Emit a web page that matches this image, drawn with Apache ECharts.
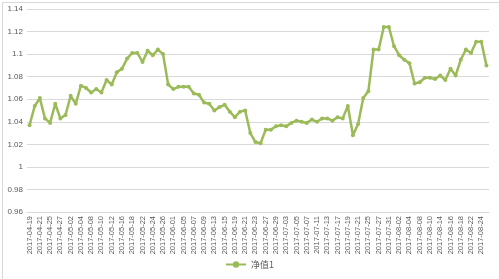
<!DOCTYPE html>
<html>
<head>
<meta charset="utf-8">
<script src="https://cdn.jsdelivr.net/npm/echarts@6/dist/echarts.min.js"></script>
<style>
html,body{margin:0;padding:0;background:#fff;}
#c{width:499px;height:279px;}
</style>
</head>
<body>
<div id="c"></div>
<script>
const categories = [
  "2017-04-19","2017-04-20","2017-04-21","2017-04-24","2017-04-25","2017-04-26","2017-04-27","2017-04-28",
  "2017-05-02","2017-05-03","2017-05-04","2017-05-05","2017-05-08","2017-05-09","2017-05-10","2017-05-11","2017-05-12",
  "2017-05-15","2017-05-16","2017-05-17","2017-05-18","2017-05-19","2017-05-22","2017-05-23","2017-05-24","2017-05-25","2017-05-26","2017-05-31",
  "2017-06-01","2017-06-02","2017-06-05","2017-06-06","2017-06-07","2017-06-08","2017-06-09","2017-06-12","2017-06-13","2017-06-14","2017-06-15","2017-06-16",
  "2017-06-19","2017-06-20","2017-06-21","2017-06-22","2017-06-23","2017-06-26","2017-06-27","2017-06-28","2017-06-29","2017-06-30",
  "2017-07-03","2017-07-04","2017-07-05","2017-07-06","2017-07-07","2017-07-10","2017-07-11","2017-07-12","2017-07-13","2017-07-14",
  "2017-07-17","2017-07-18","2017-07-19","2017-07-20","2017-07-21","2017-07-24","2017-07-25","2017-07-26","2017-07-27","2017-07-28","2017-07-31",
  "2017-08-01","2017-08-02","2017-08-03","2017-08-04","2017-08-07","2017-08-08","2017-08-09","2017-08-10","2017-08-11",
  "2017-08-14","2017-08-15","2017-08-16","2017-08-17","2017-08-18","2017-08-21","2017-08-22","2017-08-23","2017-08-24","2017-08-25"
];
const seriesName = "净值1";
const values = [
  1.037,1.054,1.061,1.043,1.039,1.056,1.043,1.046,1.063,1.056,
  1.072,1.070,1.066,1.069,1.066,1.077,1.073,1.084,1.087,1.096,
  1.101,1.101,1.093,1.103,1.099,1.104,1.100,1.073,1.069,1.071,
  1.071,1.071,1.065,1.064,1.057,1.056,1.050,1.053,1.055,1.049,
  1.044,1.049,1.050,1.030,1.022,1.021,1.033,1.033,1.036,1.037,
  1.036,1.039,1.041,1.040,1.039,1.042,1.040,1.043,1.043,1.041,
  1.044,1.043,1.054,1.028,1.038,1.061,1.067,1.104,1.104,1.124,
  1.124,1.107,1.099,1.095,1.092,1.074,1.075,1.079,1.079,1.078,
  1.081,1.077,1.087,1.081,1.095,1.104,1.101,1.111,1.111,1.090
];
const yTicks = { min: 0.96, max: 1.14, interval: 0.02 };

const chart = echarts.init(document.getElementById('c'), null, {renderer: 'canvas'});
chart.setOption({
  animation: false,
  backgroundColor: '#ffffff',
  textStyle: { fontFamily: 'Liberation Sans, Arial, sans-serif' },
  graphic: [{
    type: 'rect', left: 0, top: 0,
    shape: { width: 498, height: 278 },
    style: { fill: 'none', stroke: '#d9d9d9', lineWidth: 1 },
    silent: true, z: -1
  }],
  grid: { left: 27, right: 10, top: 9, bottom: 67, containLabel: false, outerBoundsMode: 'none' },
  legend: {
    bottom: 5, left: 'center',
    itemWidth: 20, itemHeight: 8, itemGap: 4,
    textStyle: { fontSize: 9, color: '#595959', fontFamily: 'Noto Sans CJK SC' },
    data: [seriesName]
  },
  xAxis: {
    type: 'category',
    data: categories,
    boundaryGap: true,
    axisLine: { show: true, lineStyle: { color: '#d9d9d9' } },
    axisTick: { show: false },
    axisLabel: {
      interval: 1, rotate: 90, fontSize: 7.5, color: '#595959', margin: 4,
      fontFamily: 'Liberation Sans, Arial, sans-serif'
    },
    splitLine: { show: false }
  },
  yAxis: {
    type: 'value',
    min: yTicks.min, max: yTicks.max, interval: yTicks.interval,
    axisLine: { show: false },
    axisTick: { show: false },
    axisLabel: { fontSize: 8, color: '#595959', margin: 4 },
    splitLine: { lineStyle: { color: '#d9d9d9', width: 1 } }
  },
  series: [{
    name: seriesName,
    type: 'line',
    data: values,
    showAllSymbol: true,
    symbol: 'circle',
    symbolSize: 4,
    itemStyle: { color: '#9bbb59' },
    lineStyle: { color: '#9bbb59', width: 2.5 }
  }]
});
</script>
</body>
</html>
